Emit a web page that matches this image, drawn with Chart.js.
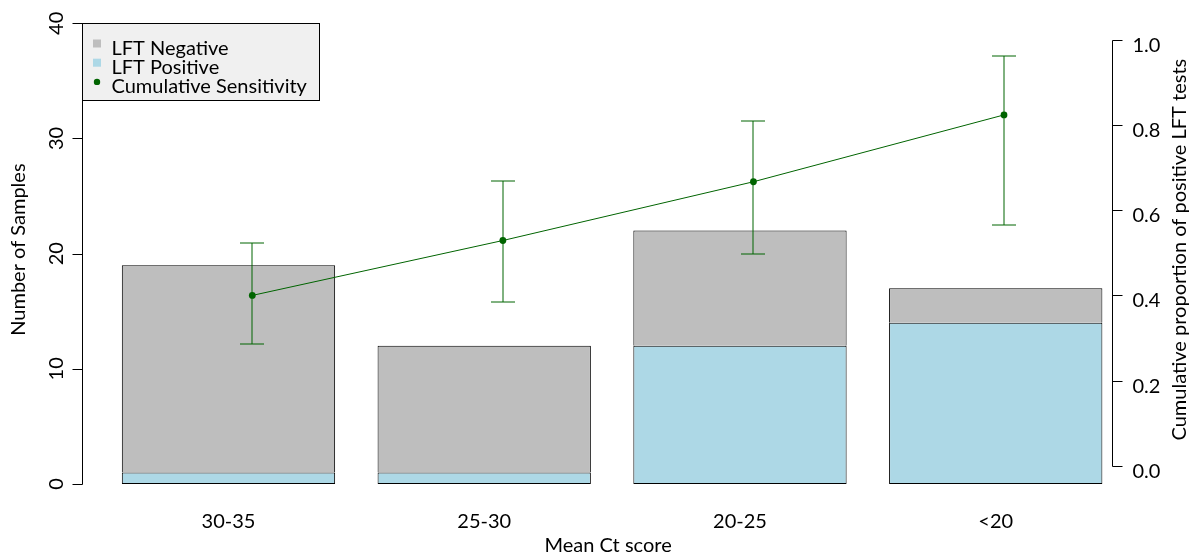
<!DOCTYPE html>
<html>
<head>
<meta charset="utf-8">
<script src="https://cdn.jsdelivr.net/npm/chart.js@4/dist/chart.umd.min.js"></script>
<style>
  html, body { margin: 0; padding: 0; background: #fff; }
  #wrap { width: 1193px; height: 559px; position: relative; }
</style>
</head>
<body>
<div id="wrap"><canvas id="ctChart"></canvas></div>
<script>
// data
const categories = ['30-35', '25-30', '20-25', '<20'];
const lftPositive = [1, 1, 12, 14];
const lftNegative = [18, 11, 10, 3];
const sensitivity = [0.400, 0.529, 0.667, 0.824];
const ciLower = [0.285, 0.385, 0.498, 0.566];
const ciUpper = [0.524, 0.669, 0.809, 0.962];
const countTicks = [0, 10, 20, 30, 40];
const propTicks = [0, 0.2, 0.4, 0.6, 0.8, 1.0];

const FONT = '20px Lato, "Open Sans", sans-serif';
const GREEN = '#006400';

// error bars go under the line + points
const errorBarPlugin = {
  id: 'errorBars',
  beforeDatasetDraw(chart, args) {
    if (args.index !== 2) return;
    const ctx = chart.ctx;
    const xs = chart.scales.x2, ys = chart.scales.y2;
    ctx.save();
    ctx.strokeStyle = GREEN;
    ctx.lineWidth = 1;
    sensitivity.forEach((v, i) => {
      // whole-pixel positions -> soft 2px look like the original
      const px = Math.round(xs.getPixelForValue(i + 1));
      const top = Math.round(ys.getPixelForValue(ciUpper[i]));
      const bot = Math.round(ys.getPixelForValue(ciLower[i]));
      ctx.beginPath();
      ctx.moveTo(px, top); ctx.lineTo(px, bot);
      ctx.moveTo(px - 12, top); ctx.lineTo(px + 12, top);
      ctx.moveTo(px - 12, bot); ctx.lineTo(px + 12, bot);
      ctx.stroke();
    });
    ctx.restore();
  }
};

// base-R style axes, titles and legend
const axesPlugin = {
  id: 'baseAxes',
  afterDraw(chart) {
    const { ctx, chartArea, scales } = chart;
    const yL = scales.y, yR = scales.y2, x = scales.x;
    ctx.save();
    ctx.strokeStyle = '#000';
    ctx.fillStyle = '#000';
    ctx.lineWidth = 1;
    ctx.font = FONT;

    // left axis
    const lx = Math.round(chartArea.left - 18.3) + 0.5;
    const l0 = Math.round(yL.getPixelForValue(countTicks[0])) + 0.5;
    const l1 = Math.round(yL.getPixelForValue(countTicks[countTicks.length - 1])) + 0.5;
    ctx.beginPath();
    ctx.moveTo(lx, l0); ctx.lineTo(lx, l1);
    countTicks.forEach(v => {
      const py = Math.round(yL.getPixelForValue(v)) + 0.5;
      ctx.moveTo(lx, py); ctx.lineTo(lx - 10, py);
    });
    ctx.stroke();
    ctx.textAlign = 'center';
    ctx.textBaseline = 'middle';
    countTicks.forEach(v => {
      const py = yL.getPixelForValue(v);
      ctx.save();
      ctx.translate(lx - 26, py);
      ctx.rotate(-Math.PI / 2);
      ctx.fillText(String(v), 0, 0);
      ctx.restore();
    });

    // right axis
    const rx = Math.round(chartArea.right - 11.6) + 0.5;
    const r0 = Math.round(yR.getPixelForValue(propTicks[0])) + 0.5;
    const r1 = Math.round(yR.getPixelForValue(propTicks[propTicks.length - 1])) + 0.5;
    ctx.beginPath();
    ctx.moveTo(rx, r0); ctx.lineTo(rx, r1);
    propTicks.forEach(v => {
      const py = Math.round(yR.getPixelForValue(v)) + 0.5;
      ctx.moveTo(rx, py); ctx.lineTo(rx + 10, py);
    });
    ctx.stroke();
    ctx.textAlign = 'left';
    propTicks.forEach(v => {
      ctx.fillText(v.toFixed(1), rx + 20, yR.getPixelForValue(v) + 5.5);
    });

    // x labels + titles
    ctx.textAlign = 'center';
    categories.forEach((c, i) => {
      ctx.fillText(c, x.getPixelForValue(i), 522);
    });
    const midX = (chartArea.left + chartArea.right) / 2;
    const midY = (chartArea.top + chartArea.bottom) / 2 - 4;
    ctx.fillText('Mean Ct score', midX - 4, 546);
    ctx.save();
    ctx.translate(18.5, midY);
    ctx.rotate(-Math.PI / 2);
    ctx.fillText('Number of Samples', 0, 0);
    ctx.restore();
    ctx.save();
    ctx.translate(1180, midY);
    ctx.rotate(-Math.PI / 2);
    ctx.fillText('Cumulative proportion of positive LFT tests', 0, 0);
    ctx.restore();

    // legend box
    const ds = chart.data.datasets;
    const items = [ds[1], ds[0], ds[2]];
    const bx = lx, by = l1;
    ctx.fillStyle = '#F0F0F0';
    ctx.fillRect(bx, by, 237, 77);
    ctx.strokeRect(bx, by, 237, 77);
    ctx.textAlign = 'left';
    ctx.textBaseline = 'alphabetic';
    items.forEach((d, i) => {
      const cy = by + 20 + i * 19.2;
      if (d.type === 'line') {
        ctx.fillStyle = d.pointBackgroundColor;
        ctx.beginPath();
        ctx.arc(bx + 14.5, cy, 3.2, 0, Math.PI * 2);
        ctx.fill();
      } else {
        ctx.fillStyle = d.backgroundColor;
        ctx.fillRect(bx + 10.5, cy - 4, 8, 8);
      }
      ctx.fillStyle = '#000';
      ctx.fillText(d.label, bx + 29, cy + 11);
    });
    ctx.restore();
  }
};

new Chart(document.getElementById('ctChart'), {
  type: 'bar',
  data: {
    labels: categories,
    datasets: [
      {
        label: 'LFT Positive',
        data: lftPositive,
        grouped: false,
        backgroundColor: '#ADD8E6',
        borderColor: '#000',
        borderWidth: 1,
        borderSkipped: false,
        barPercentage: 0.834,
        categoryPercentage: 1,
        order: 1
      },
      {
        label: 'LFT Negative',
        data: lftNegative,
        grouped: false,
        backgroundColor: '#BEBEBE',
        borderColor: '#000',
        borderWidth: 1,
        borderSkipped: 'start',
        barPercentage: 0.834,
        categoryPercentage: 1,
        order: 1
      },
      {
        type: 'line',
        label: 'Cumulative Sensitivity',
        data: sensitivity.map((v, i) => ({ x: i + 1, y: v })),
        xAxisID: 'x2',
        yAxisID: 'y2',
        borderColor: GREEN,
        borderWidth: 1,
        pointBackgroundColor: GREEN,
        pointBorderWidth: 0,
        pointRadius: 3.4,
        tension: 0,
        fill: false,
        order: 0
      }
    ]
  },
  options: {
    responsive: true,
    maintainAspectRatio: false,
    animation: false,
    layout: { padding: { left: 100.6, right: 69.4, top: 4.87, bottom: 56.6 } },
    plugins: {
      legend: { display: false },
      tooltip: { enabled: false }
    },
    scales: {
      x: { display: false, stacked: true, offset: true },
      y: { display: false, stacked: true, min: -1.6, max: 41.6 },
      x2: { type: 'linear', display: false, offset: false, min: 0.3946, max: 4.4773 },
      y2: { type: 'linear', display: false, min: -0.0862, max: 1.0825 }
    }
  },
  plugins: [errorBarPlugin, axesPlugin]
});
</script>
</body>
</html>
